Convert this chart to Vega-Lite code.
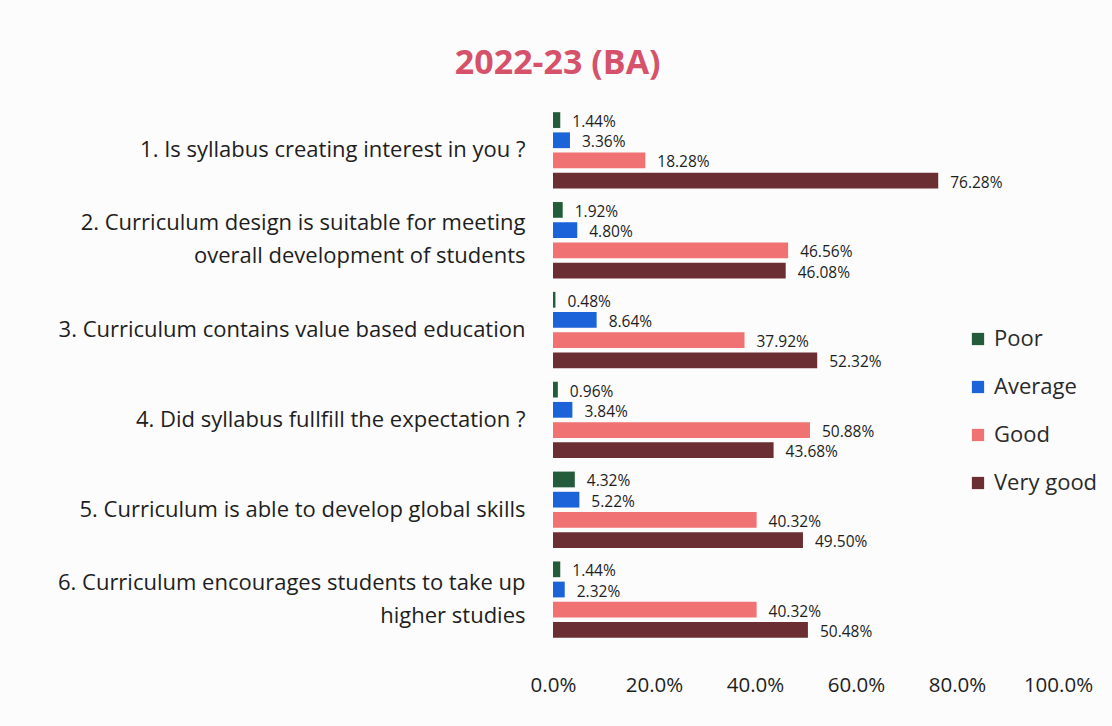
{
  "$schema": "https://vega.github.io/schema/vega-lite/v6.json",
  "autosize": "none",
  "width": 505,
  "height": 540,
  "padding": {"left": 553, "top": 105, "right": 54, "bottom": 81},
  "background": "#fcfcfc",
  "title": {
    "text": "2022-23 (BA)",
    "anchor": "middle",
    "frame": "bounds",
    "font": "Open Sans",
    "fontSize": 34,
    "fontWeight": "bold",
    "color": "#d6526b",
    "offset": 24,
    "dx": -20
  },
  "data": {
    "values": [
      {"q": "1. Is syllabus creating interest in you ?", "r": "Poor", "v": 0.0144},
      {"q": "1. Is syllabus creating interest in you ?", "r": "Average", "v": 0.0336},
      {"q": "1. Is syllabus creating interest in you ?", "r": "Good", "v": 0.1828},
      {"q": "1. Is syllabus creating interest in you ?", "r": "Very good", "v": 0.7628},
      {"q": "2. Curriculum design is suitable for meeting|overall development of students", "r": "Poor", "v": 0.0192},
      {"q": "2. Curriculum design is suitable for meeting|overall development of students", "r": "Average", "v": 0.048},
      {"q": "2. Curriculum design is suitable for meeting|overall development of students", "r": "Good", "v": 0.4656},
      {"q": "2. Curriculum design is suitable for meeting|overall development of students", "r": "Very good", "v": 0.4608},
      {"q": "3. Curriculum contains value based education", "r": "Poor", "v": 0.0048},
      {"q": "3. Curriculum contains value based education", "r": "Average", "v": 0.0864},
      {"q": "3. Curriculum contains value based education", "r": "Good", "v": 0.3792},
      {"q": "3. Curriculum contains value based education", "r": "Very good", "v": 0.5232},
      {"q": "4. Did syllabus fullfill the expectation ?", "r": "Poor", "v": 0.0096},
      {"q": "4. Did syllabus fullfill the expectation ?", "r": "Average", "v": 0.0384},
      {"q": "4. Did syllabus fullfill the expectation ?", "r": "Good", "v": 0.5088},
      {"q": "4. Did syllabus fullfill the expectation ?", "r": "Very good", "v": 0.4368},
      {"q": "5. Curriculum is able to develop global skills", "r": "Poor", "v": 0.0432},
      {"q": "5. Curriculum is able to develop global skills", "r": "Average", "v": 0.0522},
      {"q": "5. Curriculum is able to develop global skills", "r": "Good", "v": 0.4032},
      {"q": "5. Curriculum is able to develop global skills", "r": "Very good", "v": 0.495},
      {"q": "6. Curriculum encourages students to take up|higher studies", "r": "Poor", "v": 0.0144},
      {"q": "6. Curriculum encourages students to take up|higher studies", "r": "Average", "v": 0.0232},
      {"q": "6. Curriculum encourages students to take up|higher studies", "r": "Good", "v": 0.4032},
      {"q": "6. Curriculum encourages students to take up|higher studies", "r": "Very good", "v": 0.5048}
    ]
  },
  "encoding": {
    "y": {
      "field": "q",
      "type": "nominal",
      "sort": null,
      "title": null,
      "scale": {"paddingInner": 0.15, "paddingOuter": 0.08},
      "axis": {
        "labelExpr": "split(datum.label, '|')",
        "labelFont": "Open Sans",
        "labelFontSize": 22,
        "labelColor": "#1e1e1e",
        "labelLimit": 600,
        "labelPadding": 28,
        "labelLineHeight": 33,
        "labelOffset": {"condition": {"test": "indexof(datum.label, '|') >= 0", "value": -17}, "value": 0},
        "domain": false,
        "ticks": false
      }
    },
    "yOffset": {
      "field": "r",
      "type": "nominal",
      "sort": ["Poor", "Average", "Good", "Very good"],
      "scale": {"paddingInner": 0.22}
    },
    "x": {
      "field": "v",
      "type": "quantitative",
      "title": null,
      "scale": {"domain": [0, 1]},
      "axis": {
        "format": ".1%",
        "values": [0, 0.2, 0.4, 0.6, 0.8, 1],
        "grid": false,
        "domain": false,
        "ticks": false,
        "labelFlush": false,
        "labelOverlap": false,
        "labelFont": "Open Sans",
        "labelFontSize": 20.5,
        "labelColor": "#1e1e1e",
        "labelPadding": 30
      }
    }
  },
  "layer": [
    {
      "mark": {"type": "bar"},
      "encoding": {
        "color": {
          "field": "r",
          "type": "nominal",
          "sort": ["Poor", "Average", "Good", "Very good"],
          "scale": {
            "domain": ["Poor", "Average", "Good", "Very good"],
            "range": ["#245c3b", "#1c63d9", "#f07272", "#6b2e33"]
          },
          "legend": {
            "title": null,
            "orient": "none",
            "legendX": 414,
            "legendY": 223,
            "symbolType": "square",
            "symbolSize": 150,
            "labelFont": "Open Sans",
            "labelFontSize": 22,
            "labelColor": "#2a2a2a",
            "labelLimit": 200,
            "rowPadding": 26,
            "labelOffset": 5
          }
        }
      }
    },
    {
      "mark": {"type": "text", "align": "left", "baseline": "middle", "dx": 12, "dy": 2, "font": "Open Sans", "fontSize": 15.5, "color": "#1e1e1e"},
      "encoding": {
        "text": {"field": "v", "type": "quantitative", "format": ".2%"}
      }
    }
  ],
  "config": {"view": {"stroke": null}}
}
